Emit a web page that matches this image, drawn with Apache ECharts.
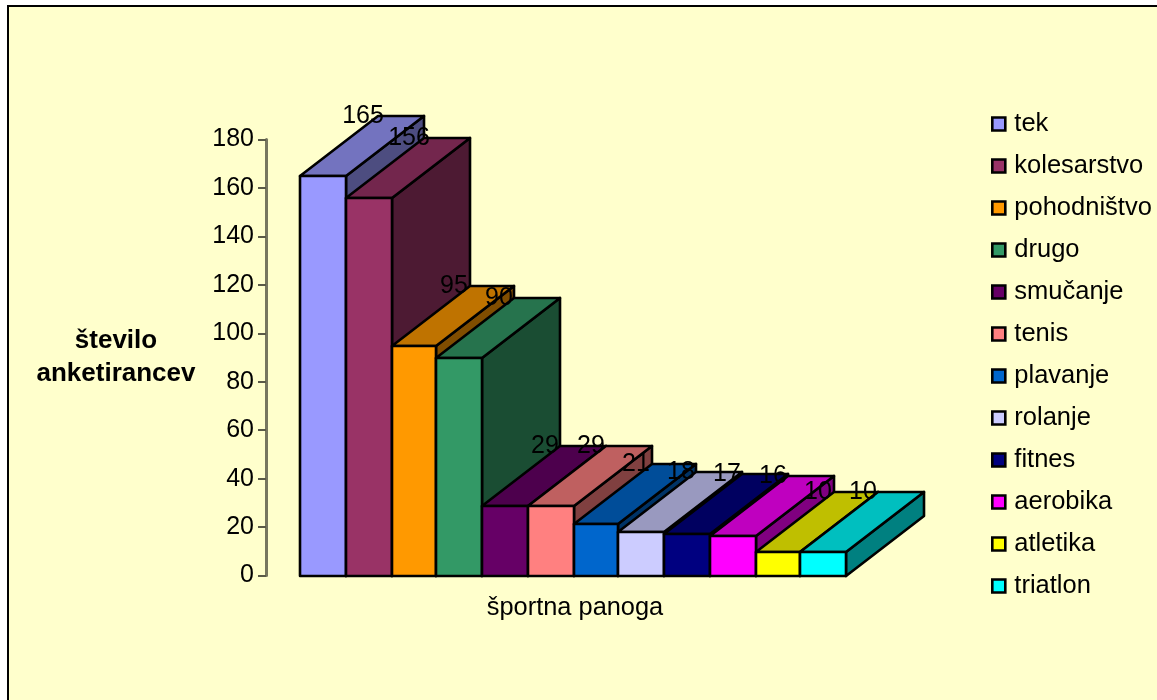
<!DOCTYPE html>
<html>
<head>
<meta charset="utf-8">
<style>html,body{margin:0;padding:0;background:#fff}#c{width:1157px;height:700px}</style>
<script src="https://cdn.jsdelivr.net/npm/echarts@6/dist/echarts.min.js"></script>
</head>
<body>
<div id="c"></div>
<script>
// Anketa: športne panoge po številu anketirancev
const sports = ['tek','kolesarstvo','pohodništvo','drugo','smučanje','tenis','plavanje','rolanje','fitnes','aerobika','atletika','triatlon'];
const counts = [165,156,95,90,29,29,21,18,17,16,10,10];
const colours = ['#9999FF','#993366','#FF9900','#339966','#660066','#FF8080','#0066CC','#CCCCFF','#000080','#FF00FF','#FFFF00','#00FFFF'];
const yTicks = {min:0,max:180,interval:20};

const FONT = '"Liberation Sans", Arial, sans-serif';
const DEPTH_X = 78, DEPTH_Y = -60;

const shade = (hex, k) => {
  const n = parseInt(hex.slice(1), 16);
  const c = s => Math.round(((n >> s) & 255) * k);
  return `rgb(${c(16)},${c(8)},${c(0)})`;
};
const even = v => Math.round(v / 2) * 2;

// One box in oblique projection: side and top faces behind the front face, value at the back of the top.
function box(params, api) {
  const i = api.value(0), v = api.value(1);
  const top = api.coord([i, v]), base = api.coord([i, 0]);
  const w = api.size([1, 0])[0];
  const x0 = even(top[0] - w / 2), x1 = even(top[0] + w / 2);
  const yT = even(top[1]), yB = even(base[1]);
  const col = colours[i];
  const edge = {stroke:'#000', lineWidth:2.6, lineJoin:'round'};
  const poly = (points, fill) => ({type:'polygon', shape:{points}, style:Object.assign({fill}, edge)});
  return {type:'group', children:[
    poly([[x1,yT],[x1+DEPTH_X,yT+DEPTH_Y],[x1+DEPTH_X,yB+DEPTH_Y],[x1,yB]], shade(col,0.5)),
    poly([[x0,yT],[x0+DEPTH_X,yT+DEPTH_Y],[x1+DEPTH_X,yT+DEPTH_Y],[x1,yT]], shade(col,0.75)),
    poly([[x0,yT],[x1,yT],[x1,yB],[x0,yB]], col),
    {type:'text', z2:100, style:{
      x:(x0+x1)/2+DEPTH_X/2+1, y:yT+DEPTH_Y, text:String(v), fill:'#000',
      font:'25px '+FONT, align:'center', verticalAlign:'middle'}}
  ]};
}

const chart = echarts.init(document.getElementById('c'), null, {renderer:'canvas'});
chart.setOption({
  animation:false,
  backgroundColor:'#fff',
  textStyle:{fontFamily:FONT},
  graphic:[{type:'rect', z:-10, silent:true,
    shape:{x:8,y:6,width:1300,height:900},
    style:{fill:'#FFFFCC',stroke:'#000',lineWidth:2}}],
  grid:{left:300,top:139.5,width:546,height:436,containLabel:false},
  xAxis:{type:'category',data:sports,boundaryGap:true,
    axisLine:{show:false},axisTick:{show:false},axisLabel:{show:false},splitLine:{show:false},
    name:'športna panoga',nameLocation:'middle',nameGap:20,
    nameTextStyle:{color:'#000',fontSize:25.4,fontFamily:FONT,padding:[0,0,0,4]}},
  yAxis:{type:'value',min:yTicks.min,max:yTicks.max,interval:yTicks.interval,offset:34,
    axisLine:{show:true,lineStyle:{color:'#77775F',width:3}},
    axisTick:{show:true,length:8,lineStyle:{color:'#5A5A48',width:2}},
    axisLabel:{color:'#000',fontSize:25,fontFamily:FONT,margin:12},
    splitLine:{show:false},
    name:'število\nanketirancev',nameLocation:'middle',nameRotate:0,nameGap:150,
    nameTextStyle:{color:'#000',fontSize:26,fontWeight:'bold',fontFamily:FONT,lineHeight:33,align:'center',verticalAlign:'middle',padding:[2,0,0,0]}},
  legend:{orient:'vertical',left:991,top:111,padding:0,icon:'rect',itemWidth:13,itemHeight:13,itemGap:16,
    selectedMode:false,data:sports,
    itemStyle:{borderColor:'#000',borderWidth:2.6},
    textStyle:{color:'#000',fontSize:25.5,fontFamily:FONT,padding:[0,0,0,4]}},
  series:sports.map((name,i)=>({
    name,type:'custom',renderItem:box,clip:false,
    itemStyle:{color:colours[i]},
    encode:{x:0,y:1},
    data:[[i,counts[i]]]
  }))
});
</script>
</body>
</html>
